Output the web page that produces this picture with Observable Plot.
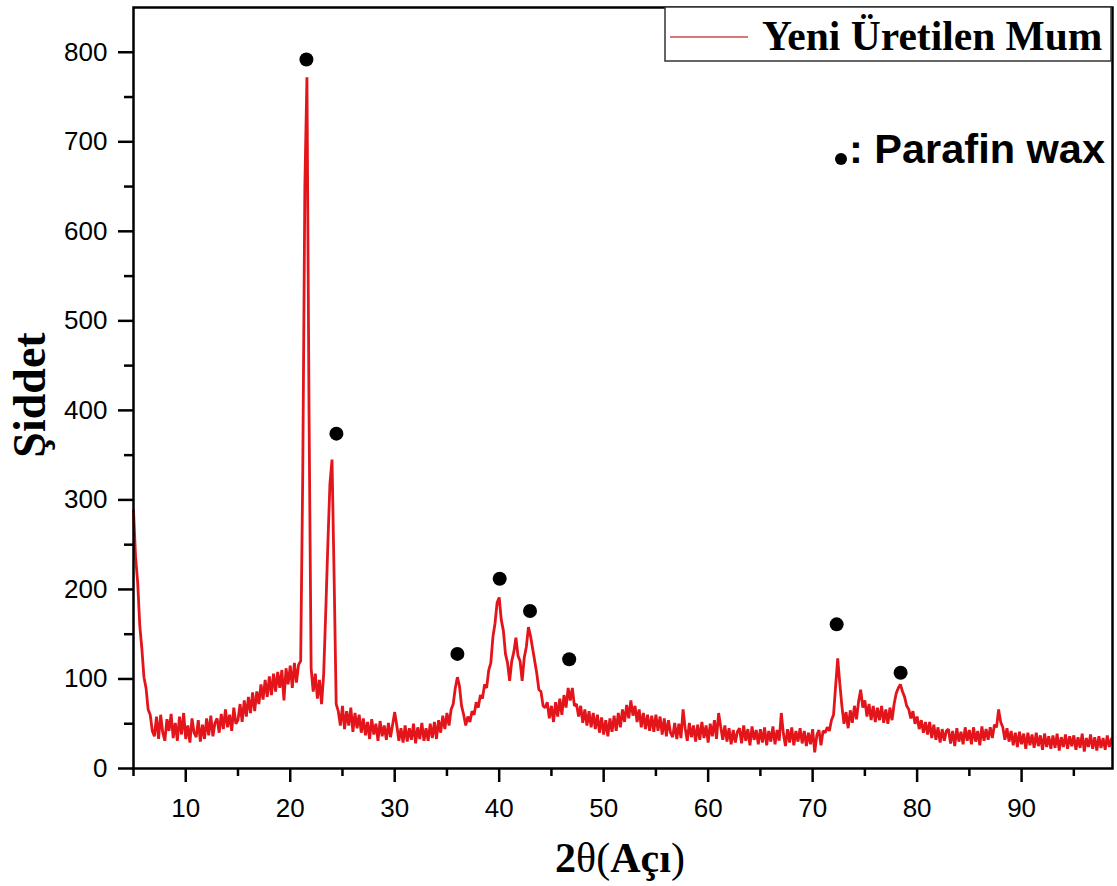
<!DOCTYPE html>
<html>
<head>
<meta charset="utf-8">
<script src="https://cdn.jsdelivr.net/npm/d3@7"></script>
<script src="https://cdn.jsdelivr.net/npm/@observablehq/plot@0.6"></script>
<style>
  html, body { margin: 0; padding: 0; background: white; }
  #chart { position: relative; width: 1117px; height: 886px; }
</style>
</head>
<body>
<div id="chart"></div>
<script>
// XRD pattern: 2θ from 5° in 0.2° steps (instrument grid), intensities
const start2Theta = 5;
const step2Theta = 0.2;
const intensity = [
  288, 236, 208, 160, 134, 102, 90, 66, 60, 42,
  36, 58, 33, 60, 40, 31, 55, 42, 61, 34,
  51, 31, 58, 38, 62, 33, 48, 29, 56, 40,
  35, 54, 30, 49, 33, 56, 37, 59, 36, 51,
  56, 40, 61, 44, 66, 46, 60, 42, 68, 50,
  54, 72, 52, 76, 58, 80, 62, 85, 64, 86,
  72, 94, 77, 99, 80, 103, 82, 106, 86, 108,
  90, 110, 76, 112, 94, 115, 90, 118, 96, 116,
  120, 330, 650, 772, 400, 112, 86, 106, 78, 99,
  72, 105, 175, 250, 318, 345, 215, 72, 64, 48,
  70, 44, 64, 48, 68, 41, 62, 45, 60, 40,
  56, 37, 52, 33, 55, 38, 50, 31, 53, 36,
  48, 32, 51, 35, 49, 63, 48, 31, 45, 29,
  48, 30, 45, 32, 50, 28, 46, 33, 51, 31,
  45, 31, 50, 34, 52, 33, 54, 40, 59, 44,
  62, 48, 66, 72, 90, 102, 92, 70, 60, 48,
  58, 52, 64, 60, 74, 68, 82, 78, 94, 90,
  110, 118, 147, 162, 185, 191, 166, 154, 128, 118,
  98, 120, 130, 146, 126, 120, 98, 124, 136, 158,
  148, 134, 120, 106, 88, 86, 70, 68, 74, 56,
  70, 52, 74, 58, 78, 60, 82, 68, 90, 76,
  90, 70, 72, 58, 70, 51, 66, 48, 64, 46,
  62, 44, 60, 40, 57, 38, 54, 36, 56, 41,
  59, 42, 62, 46, 66, 52, 71, 56, 76, 59,
  70, 52, 66, 46, 62, 44, 60, 42, 59, 41,
  60, 42, 58, 38, 56, 36, 54, 40, 35, 51,
  33, 50, 34, 66, 45, 31, 51, 35, 48, 30,
  49, 32, 52, 34, 48, 29, 50, 36, 54, 33,
  62, 47, 32, 48, 30, 45, 27, 43, 29, 41,
  45, 28, 48, 31, 44, 26, 47, 32, 43, 27,
  44, 29, 46, 26, 42, 30, 47, 27, 43, 31,
  62, 39, 25, 44, 29, 46, 26, 42, 30, 45,
  28, 42, 25, 40, 27, 44, 18, 37, 43, 26,
  42, 40, 46, 42, 54, 60, 92, 123, 95, 70,
  50, 63, 45, 65, 51, 70, 55, 75, 88, 68,
  76, 58, 72, 54, 70, 52, 68, 54, 70, 51,
  66, 50, 68, 54, 72, 84, 90, 94, 86, 80,
  70, 66, 56, 64, 50, 58, 44, 54, 40, 52,
  38, 52, 34, 49, 32, 46, 29, 44, 31, 42,
  44, 28, 42, 25, 45, 30, 41, 27, 46, 31,
  43, 27, 46, 30, 42, 26, 47, 31, 44, 32,
  46, 34, 49, 46, 66, 52, 46, 32, 45, 30,
  42, 26, 40, 24, 41, 27, 39, 22, 40, 26,
  38, 23, 40, 25, 37, 21, 39, 24, 36, 22,
  37, 23, 39, 20, 35, 24, 38, 22, 36, 25,
  37, 21, 35, 23, 39, 19, 34, 24, 38, 22,
  35, 20, 36, 23, 34, 21, 37, 24, 33
];

// Parafin wax peak markers
const markerTwoTheta = [21.55, 24.42, 36.0, 40.05, 42.95, 46.7, 72.3, 78.42];
const markerIntensity = [792, 374, 128, 212, 176, 122, 161, 107];

// Axes
const xMajorTicks = [10, 20, 30, 40, 50, 60, 70, 80, 90];
const xMinorTicks = [5, 15, 25, 35, 45, 55, 65, 75, 85, 95];
const yMajorTicks = [0, 100, 200, 300, 400, 500, 600, 700, 800];
const yMinorTicks = [50, 150, 250, 350, 450, 550, 650, 750];

const seriesName = "Yeni Üretilen Mum";
const markerLabel = ": Parafin wax";
const yTitle = "Şiddet";

const pattern = intensity.map((v, i) => ({twoTheta: start2Theta + i * step2Theta, intensity: v}));
const markers = markerTwoTheta.map((x, i) => ({twoTheta: x, intensity: markerIntensity[i]}));

const plot = Plot.plot({
  width: 1117,
  height: 886,
  marginLeft: 133,
  marginRight: 5,
  marginTop: 7,
  marginBottom: 118,
  style: {fontFamily: "'Liberation Sans', Arial, sans-serif", fontSize: "26px", color: "black", background: "white"},
  x: {domain: [5, 98.7]},
  y: {domain: [0, 850]},
  marks: [
    Plot.line(pattern, {x: "twoTheta", y: "intensity", stroke: "#e3151b", strokeWidth: 2.8, strokeLinejoin: "miter"}),
    Plot.dot(markers, {x: "twoTheta", y: "intensity", r: 7, fill: "black"}),
    Plot.frame({stroke: "black", strokeWidth: 2.5}),
    Plot.axisX({ticks: xMajorTicks, tickSize: 14, tickPadding: 16, strokeWidth: 2.5, label: null}),
    Plot.axisX({ticks: xMinorTicks, tickSize: 8, tickFormat: () => "", strokeWidth: 2.5, label: null}),
    Plot.axisY({ticks: yMajorTicks, tickSize: 15, tickPadding: 11, strokeWidth: 2.5, label: null}),
    Plot.axisY({ticks: yMinorTicks, tickSize: 9, tickFormat: () => "", strokeWidth: 2.5, label: null})
  ]
});

document.getElementById("chart").appendChild(plot);

// Annotations: legend box, marker key, axis titles
const svg = d3.select(plot);
const ann = svg.append("g");

ann.append("rect")
  .attr("x", 665).attr("y", 7).attr("width", 446).attr("height", 54)
  .attr("fill", "white").attr("stroke", "#333").attr("stroke-width", 1.5);
ann.append("line")
  .attr("x1", 670).attr("x2", 748).attr("y1", 37).attr("y2", 37)
  .attr("stroke", "#d04848").attr("stroke-width", 1.5);
ann.append("text")
  .attr("x", 762).attr("y", 50)
  .attr("text-anchor", "start")
  .style("font-family", "'Liberation Serif', 'Times New Roman', serif")
  .style("font-weight", "bold").style("font-size", "41.5px")
  .attr("fill", "black")
  .text(seriesName);

ann.append("circle").attr("cx", 841).attr("cy", 159).attr("r", 6).attr("fill", "black");
ann.append("text")
  .attr("x", 849).attr("y", 163)
  .attr("text-anchor", "start")
  .style("font-family", "'Liberation Sans', Arial, sans-serif")
  .style("font-weight", "bold").style("font-size", "41.5px")
  .attr("fill", "black")
  .text(markerLabel);

ann.append("text")
  .attr("transform", "translate(45,395) rotate(-90)")
  .attr("text-anchor", "middle")
  .style("font-family", "'Liberation Serif', 'Times New Roman', serif")
  .style("font-weight", "bold").style("font-size", "46px")
  .attr("fill", "black")
  .text(yTitle);

const xt = ann.append("text")
  .attr("x", 620).attr("y", 872)
  .attr("text-anchor", "middle")
  .style("font-family", "'Liberation Serif', 'Times New Roman', serif")
  .style("font-size", "42px")
  .attr("fill", "black");
xt.append("tspan").style("font-weight", "bold").text("2");
xt.append("tspan").style("font-weight", "normal").text("θ(");
xt.append("tspan").style("font-weight", "bold").text("Açı");
xt.append("tspan").style("font-weight", "normal").text(")");
</script>
</body>
</html>
